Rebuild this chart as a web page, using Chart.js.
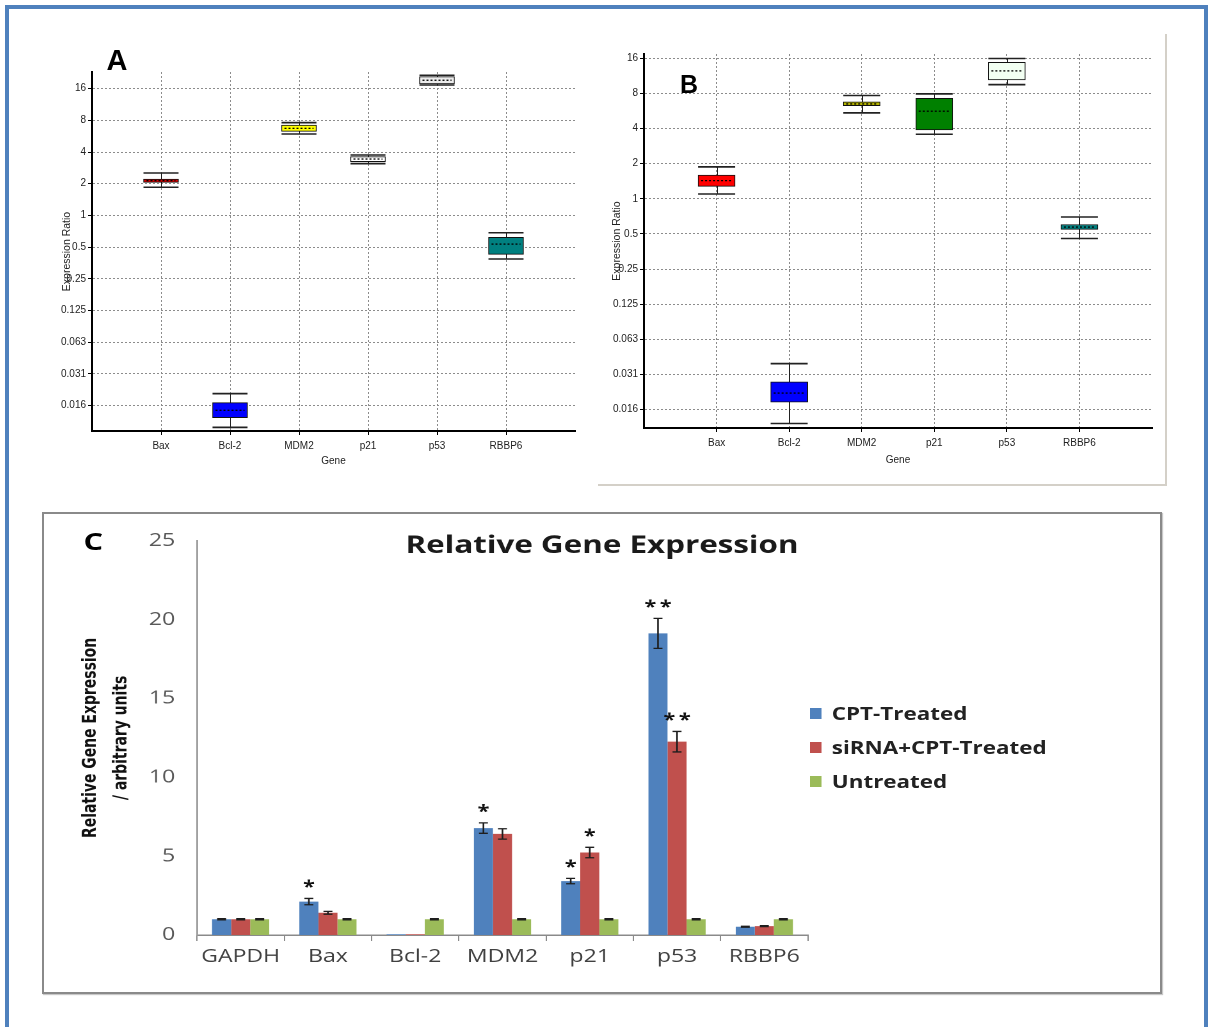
<!DOCTYPE html>
<html>
<head>
<meta charset="utf-8">
<script src="https://cdn.jsdelivr.net/npm/chart.js@4"></script>
<style>
    html, body { margin: 0; padding: 0; background: #fff; }
    body { position: relative; width: 1208px; height: 1027px; overflow: hidden; }
    .abs { position: absolute; }
    #frame { left: 5px; top: 5px; width: 1203px; height: 1040px; border: 4px solid #4f81bd; box-sizing: border-box; }
    #frameB { left: 598px; top: 34px; width: 569px; height: 452px; border-right: 2px solid #d4d0c8; border-bottom: 2px solid #d4d0c8; box-sizing: border-box; }
    #frameC { left: 42px; top: 512px; width: 1120px; height: 482px; border: 2px solid #8a8a8a; box-sizing: border-box; box-shadow: 1px 1px 1px #c8c8c8; }
    #chartA { left: 40px; top: 40px; }
    #chartB { left: 600px; top: 30px; }
    .letter { font-family: "Liberation Sans", Arial, sans-serif; font-weight: bold; line-height: 1; transform: translateX(-50%); color: #000; }
    #wrapC { left: 42px; top: 513px; width: 875px; height: 482px; transform: scaleX(1.28); transform-origin: 0 0; }
    #letterC { left: 40px; top: 16px; font-family: "Open Sans", sans-serif; font-size: 24px; }
    .legend-row { position: absolute; left: 600px; height: 22px; display: flex; align-items: center; font: bold 17.5px "Open Sans", sans-serif; color: #222; white-space: nowrap; }
    .swatch { display: inline-block; width: 9px; height: 11px; margin-right: 8px; }
</style>
</head>
<body>
<div id="frame" class="abs"></div>
<div id="frameB" class="abs"></div>
<div id="frameC" class="abs"></div>
<canvas id="chartA" class="abs" width="560" height="440"></canvas>
<canvas id="chartB" class="abs" width="560" height="460"></canvas>
<div class="abs letter" style="left:117px; top:46px; font-size:29px;">A</div>
<div class="abs letter" style="left:689px; top:72px; font-size:25px;">B</div>
<div id="wrapC" class="abs">
    <canvas id="chartC" width="875" height="482"></canvas>
    <div id="letterC" class="abs letter">C</div>
    <div id="legendC"></div>
</div>
<script>
// genes and log2 axis of the REST box plots (A, B)
const genes = ['Bax', 'Bcl-2', 'MDM2', 'p21', 'p53', 'RBBP6'];
const ratioTicks = [1 / 64, 1 / 32, 1 / 16, 1 / 8, 1 / 4, 1 / 2, 1, 2, 4, 8, 16];
const ratioTickLabels = ['0.016', '0.031', '0.063', '0.125', '0.25', '0.5', '1', '2', '4', '8', '16'];

// panel A: whisker min, quartiles, median, whisker max
const aMin = [1.85, 0.0097, 5.93, 3.10, 17.3, 0.385];
const aQ1  = [2.06, 0.0120, 6.29, 3.24, 17.7, 0.426];
const aMed = [2.14, 0.0141, 6.71, 3.43, 19.2, 0.534];
const aQ3  = [2.21, 0.0167, 7.22, 3.61, 20.8, 0.618];
const aMax = [2.53, 0.0203, 7.60, 3.75, 21.4, 0.684];

// panel B
const bMin = [1.10, 0.0119, 5.45, 3.58, 9.52, 0.458];
const bQ1  = [1.28, 0.0181, 6.29, 3.90, 10.44, 0.547];
const bMed = [1.43, 0.0217, 6.50, 5.63, 12.47, 0.573];
const bQ3  = [1.60, 0.0271, 6.77, 7.27, 14.8, 0.603];
const bMax = [1.88, 0.0388, 7.67, 7.92, 15.9, 0.700];

// panel C: relative expression bars
const genesC = ['GAPDH', 'Bax', 'Bcl-2', 'MDM2', 'p21', 'p53', 'RBBP6'];
const seriesNames = ['CPT-Treated', 'siRNA+CPT-Treated', 'Untreated'];
const cptVals   = [1.0, 2.12, 0.05, 6.78, 3.42, 19.13, 0.52];
const cptErr    = [0.04, 0.2, 0, 0.33, 0.17, 0.95, 0.03];
const sirnaVals = [1.0, 1.41, 0.05, 6.41, 5.23, 12.26, 0.56];
const sirnaErr  = [0.04, 0.09, 0, 0.33, 0.33, 0.65, 0.03];
const untrVals  = [1.0, 1.0, 1.0, 1.0, 1.0, 1.0, 1.0];
const untrErr   = [0.04, 0.04, 0.04, 0.04, 0.04, 0.04, 0.04];
const cptStars   = ['', '*', '', '*', '*', '**', ''];
const sirnaStars = ['', '', '', '', '*', '**', ''];
const cTicks = [0, 5, 10, 15, 20, 25];

const aColors = ['#d40000', '#0000ff', '#ffff00', '#ffffff', '#ececec', '#008080'];
const bColors = ['#ff0000', '#0000ff', '#b4b400', '#008000', '#f2fff2', '#008080'];
const seriesColors = ['#4F81BD', '#C0504D', '#9BBB59'];

const smallFont = { family: '"Liberation Sans", Arial, sans-serif', size: 10 };

function whiskerPlugin(q, capHalf) {
    return {
        id: 'whiskers',
        beforeDatasetsDraw(chart) {
            const { ctx, scales: { x, y } } = chart;
            ctx.save();
            ctx.strokeStyle = '#222';
            ctx.lineWidth = 1;
            genes.forEach((g, i) => {
                const px = Math.round(x.getPixelForValue(i + 1)) + 0.5;
                ctx.beginPath();
                ctx.moveTo(px, y.getPixelForValue(q.max[i]));
                ctx.lineTo(px, y.getPixelForValue(q.min[i]));
                ctx.stroke();
            });
            ctx.restore();
        },
        afterDatasetsDraw(chart) {
            const { ctx, scales: { x, y } } = chart;
            ctx.save();
            genes.forEach((g, i) => {
                const px = x.getPixelForValue(i + 1);
                ctx.strokeStyle = '#222';
                ctx.lineWidth = 1.6;
                ctx.setLineDash([]);
                [q.min[i], q.max[i]].forEach(v => {
                    const py = y.getPixelForValue(v);
                    ctx.beginPath();
                    ctx.moveTo(px - capHalf, py);
                    ctx.lineTo(px + capHalf, py);
                    ctx.stroke();
                });
                // median as dotted line
                const my = y.getPixelForValue(q.med[i]);
                ctx.strokeStyle = '#000';
                ctx.lineWidth = 1.3;
                ctx.setLineDash([2, 2]);
                ctx.beginPath();
                ctx.moveTo(px - capHalf + 3, my);
                ctx.lineTo(px + capHalf - 3, my);
                ctx.stroke();
            });
            ctx.restore();
        }
    };
}

function boxChart(id, q, colors, cfg) {
    return new Chart(document.getElementById(id), {
        type: 'bar',
        data: {
            datasets: [{
                data: genes.map((g, i) => ({ x: i + 1, y: [q.q1[i], q.q3[i]] })),
                backgroundColor: colors,
                borderColor: '#111',
                borderWidth: 1,
                borderSkipped: false,
                barThickness: cfg.box
            }]
        },
        options: {
            responsive: false,
            animation: false,
            layout: { padding: cfg.pad },
            plugins: { legend: { display: false }, tooltip: { enabled: false } },
            scales: {
                x: {
                    type: 'linear',
                    min: 0,
                    max: 7,
                    offset: false,
                    afterBuildTicks: s => { s.ticks = genes.map((g, i) => ({ value: i + 1 })); },
                    afterFit: s => { s.height = cfg.xh; },
                    ticks: { callback: v => genes[v - 1], font: smallFont, color: '#222', padding: 5, maxRotation: 0 },
                    grid: { color: '#8c8c8c', offset: false, tickLength: 4, tickColor: '#000' },
                    border: { color: '#000', width: 2, dash: [2, 2] },
                    title: { display: true, text: 'Gene', font: smallFont, color: '#222', padding: { top: 0, bottom: cfg.xTitlePad } }
                },
                y: {
                    type: 'logarithmic',
                    min: cfg.min,
                    max: cfg.max,
                    afterBuildTicks: s => { s.ticks = ratioTicks.map(v => ({ value: v })); },
                    afterFit: s => { s.width = cfg.yw; },
                    ticks: { callback: (v, i) => ratioTickLabels[i], font: smallFont, color: '#222', padding: 2 },
                    grid: { color: '#8c8c8c', tickLength: 4, tickColor: '#000' },
                    border: { color: '#000', width: 2, dash: [2, 2] },
                    title: { display: true, text: 'Expression Ratio', font: { family: smallFont.family, size: 10.5 }, color: '#222', padding: { top: cfg.yTitlePad, bottom: 0 } }
                }
            }
        },
        plugins: [whiskerPlugin(q, cfg.box / 2)]
    });
}

boxChart('chartA', { min: aMin, q1: aQ1, med: aMed, q3: aQ3, max: aMax }, aColors, {
    box: 35, pad: { left: 0, top: 32, right: 25, bottom: 0 }, xh: 49, yw: 52,
    min: 0.00897, max: 23.0, xTitlePad: 13, yTitlePad: 21
});

boxChart('chartB', { min: bMin, q1: bQ1, med: bMed, q3: bQ3, max: bMax }, bColors, {
    box: 37, pad: { left: 0, top: 24, right: 8, bottom: 0 }, xh: 62, yw: 44,
    min: 0.0109, max: 17.4, xTitlePad: 24, yTitlePad: 11
});

// error bars, significance stars and the title of panel C
const errorBars = {
    id: 'errorBars',
    afterDatasetsDraw(chart) {
        const { ctx, scales: { y } } = chart;
        const vals = [cptVals, sirnaVals, untrVals];
        const errs = [cptErr, sirnaErr, untrErr];
        const stars = [cptStars, sirnaStars, null];
        ctx.save();
        vals.forEach((series, d) => {
            const meta = chart.getDatasetMeta(d);
            series.forEach((v, i) => {
                const e = errs[d][i];
                const x = meta.data[i].x;
                const top = y.getPixelForValue(v + e);
                const bot = y.getPixelForValue(v - e);
                if (e) {
                    ctx.strokeStyle = '#1e1e1e';
                    ctx.lineWidth = 1.3;
                    ctx.beginPath();
                    ctx.moveTo(x, top); ctx.lineTo(x, bot);
                    ctx.moveTo(x - 3.5, top); ctx.lineTo(x + 3.5, top);
                    ctx.moveTo(x - 3.5, bot); ctx.lineTo(x + 3.5, bot);
                    ctx.stroke();
                }
                const s = stars[d] && stars[d][i];
                if (s) {
                    ctx.fillStyle = '#111';
                    ctx.font = 'bold 17px "Open Sans", sans-serif';
                    ctx.textAlign = 'center';
                    ctx.textBaseline = 'alphabetic';
                    if (s.length === 2) {
                        ctx.fillText('*', x - 6, top - 6);
                        ctx.fillText('*', x + 6, top - 6);
                    } else {
                        ctx.fillText('*', x, top - 6);
                    }
                }
            });
        });
        ctx.restore();
    },
    afterDraw(chart) {
        const { ctx } = chart;
        ctx.save();
        ctx.fillStyle = '#1a1a1a';
        ctx.font = 'bold 24.5px "Open Sans", sans-serif';
        ctx.textAlign = 'center';
        ctx.textBaseline = 'alphabetic';
        ctx.fillText('Relative Gene Expression', 437.5, 40);
        ctx.restore();
    }
};

new Chart(document.getElementById('chartC'), {
    type: 'bar',
    data: {
        labels: genesC,
        datasets: [
            { label: seriesNames[0], data: cptVals, backgroundColor: seriesColors[0] },
            { label: seriesNames[1], data: sirnaVals, backgroundColor: seriesColors[1] },
            { label: seriesNames[2], data: untrVals, backgroundColor: seriesColors[2] }
        ]
    },
    options: {
        responsive: false,
        animation: false,
        devicePixelRatio: 2,
        layout: { padding: { left: 0, top: 21, right: 276.6, bottom: 0 } },
        datasets: { bar: { categoryPercentage: 0.655, barPercentage: 1 } },
        plugins: { legend: { display: false }, tooltip: { enabled: false } },
        scales: {
            x: {
                afterFit: s => { s.height = 60; },
                ticks: { font: { family: '"Open Sans", sans-serif', size: 18 }, color: '#404040', padding: 5 },
                grid: { display: true, drawOnChartArea: false, tickLength: 6, color: '#8a8a8a' },
                border: { color: '#8a8a8a', width: 1.5 }
            },
            y: {
                min: 0,
                max: 25,
                afterFit: s => { s.width = 121.1; },
                afterBuildTicks: s => { s.ticks = cTicks.map(v => ({ value: v })); },
                ticks: { font: { family: '"Open Sans", sans-serif', size: 18 }, color: '#595959', padding: 17 },
                grid: { display: false, drawTicks: false },
                border: { color: '#a0a0a0', width: 1.5 },
                title: {
                    display: true,
                    text: ['Relative Gene Expression', '/ arbitrary units'],
                    font: { family: '"Liberation Sans Narrow", "DejaVu Sans Condensed", "Liberation Sans", sans-serif', size: 15.5, weight: 'bold', lineHeight: 1.55 },
                    color: '#111',
                    padding: { top: 26, bottom: 0 }
                }
            }
        }
    },
    plugins: [errorBars]
});

// legend of panel C
const legendC = document.getElementById('legendC');
seriesNames.forEach((name, i) => {
    const row = document.createElement('div');
    row.className = 'legend-row';
    row.style.top = (189 + i * 34) + 'px';
    const sw = document.createElement('span');
    sw.className = 'swatch';
    sw.style.background = seriesColors[i];
    row.appendChild(sw);
    row.appendChild(document.createTextNode(name));
    legendC.appendChild(row);
});
</script>
</body>
</html>
